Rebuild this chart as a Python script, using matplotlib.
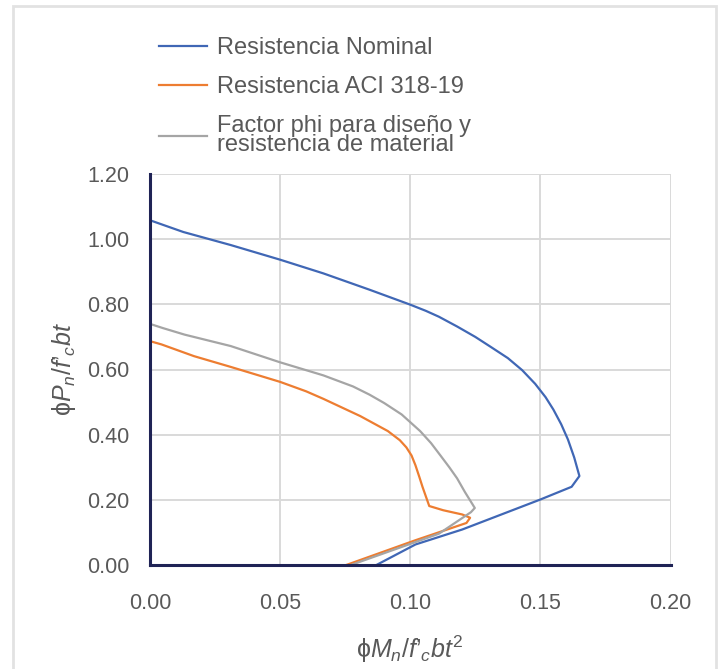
import matplotlib
matplotlib.use("Agg")
import matplotlib.pyplot as plt
from matplotlib.patches import Rectangle

plt.rcParams["font.family"] = ["Liberation Sans", "DejaVu Sans"]
plt.rcParams["mathtext.fontset"] = "custom"
plt.rcParams["mathtext.rm"] = "Liberation Sans"
plt.rcParams["mathtext.it"] = "Liberation Sans:italic"

# Interaction diagram curves (moment ratio, axial ratio)
m_nominal = [0.000, 0.0128, 0.031, 0.050, 0.0666, 0.0843, 0.100, 0.106, 0.111,
             0.118, 0.125, 0.131, 0.1375, 0.143, 0.148, 0.152, 0.155, 0.158,
             0.1606, 0.163, 0.165, 0.162, 0.150, 0.120, 0.102, 0.087]
p_nominal = [1.058, 1.022, 0.982, 0.937, 0.895, 0.845, 0.799, 0.780, 0.762,
             0.732, 0.700, 0.669, 0.635, 0.598, 0.556, 0.515, 0.477, 0.432,
             0.385, 0.330, 0.273, 0.240, 0.201, 0.109, 0.063, 0.000]

m_aci = [0.000, 0.0044, 0.0169, 0.031, 0.050, 0.060, 0.0666, 0.0808, 0.0914,
         0.096, 0.0985, 0.1005, 0.102, 0.1035, 0.1047, 0.1073, 0.1127, 0.120,
         0.123, 0.1216, 0.102, 0.0754]
p_aci = [0.687, 0.677, 0.641, 0.608, 0.562, 0.533, 0.510, 0.457, 0.411,
         0.383, 0.361, 0.336, 0.306, 0.270, 0.240, 0.181, 0.168, 0.155,
         0.145, 0.129, 0.076, 0.000]

m_phi = [0.000, 0.005, 0.0133, 0.031, 0.050, 0.0666, 0.078, 0.0843, 0.090,
         0.0967, 0.1038, 0.108, 0.1118, 0.115, 0.118, 0.121, 0.1248, 0.1233,
         0.111, 0.0772]
p_phi = [0.740, 0.727, 0.707, 0.672, 0.622, 0.582, 0.548, 0.523, 0.497,
         0.462, 0.411, 0.374, 0.334, 0.300, 0.266, 0.224, 0.175, 0.162,
         0.096, 0.000]

labels = ["Resistencia Nominal", "Resistencia ACI 318-19",
          "Factor phi para diseño y\nresistencia de material"]
colors = ["#4067b5", "#ed7d31", "#a5a5a5"]

x_ticks = [0.00, 0.05, 0.10, 0.15, 0.20]
y_ticks = [0.00, 0.20, 0.40, 0.60, 0.80, 1.00, 1.20]

txt_color = "#595959"
axis_color = "#1f2355"

fig = plt.figure(figsize=(7.21, 6.69), dpi=100)
fig.patches.append(Rectangle((13/721, -0.05), (716-13)/721, 1.05 - 6/669,
                             transform=fig.transFigure, fill=False,
                             edgecolor="#e2e2e2", linewidth=2))

ax = fig.add_axes([150/721, 1 - 565/669, 520.5/721, 391/669])

for (m, p), lab, col in zip([(m_nominal, p_nominal), (m_aci, p_aci), (m_phi, p_phi)],
                            labels, colors):
    ax.plot(m, p, color=col, linewidth=1.6, label=lab, solid_joinstyle="round")

ax.set_xlim(0, 0.20)
ax.set_ylim(0, 1.20)
ax.set_xticks(x_ticks)
ax.set_yticks(y_ticks)
ax.set_xticklabels(["%.2f" % v for v in x_ticks])
ax.set_yticklabels(["%.2f" % v for v in y_ticks])
ax.tick_params(axis="both", length=0, labelsize=15.5, labelcolor=txt_color)
ax.tick_params(axis="x", pad=20)
ax.tick_params(axis="y", pad=15)
ax.grid(True, color="#d9d9d9", linewidth=1.4)
ax.set_axisbelow(True)
for side in ["top", "right"]:
    ax.spines[side].set_visible(False)
for side in ["left", "bottom"]:
    ax.spines[side].set_color(axis_color)
    ax.spines[side].set_linewidth(2.2)
    ax.spines[side].set_zorder(5)

ax.set_xlabel("$\\mathrm{\\phi}M_n/f\u2019_c bt^2$", fontsize=18, color=txt_color, labelpad=14)
ax.set_ylabel("$\\mathrm{\\phi}P_n/f\u2019_c bt$", fontsize=18, color=txt_color, labelpad=6)

leg = ax.legend(loc="upper left", bbox_to_anchor=(150/721, 1 - 28/669),
                bbox_transform=fig.transFigure, frameon=False, fontsize=17,
                handlelength=2.0, handletextpad=0.45, labelspacing=0.72,
                borderaxespad=0)
for t in leg.get_texts():
    t.set_color(txt_color)
leg.get_texts()[2].set_linespacing(0.78)

fig.savefig("out.png", dpi=100)
